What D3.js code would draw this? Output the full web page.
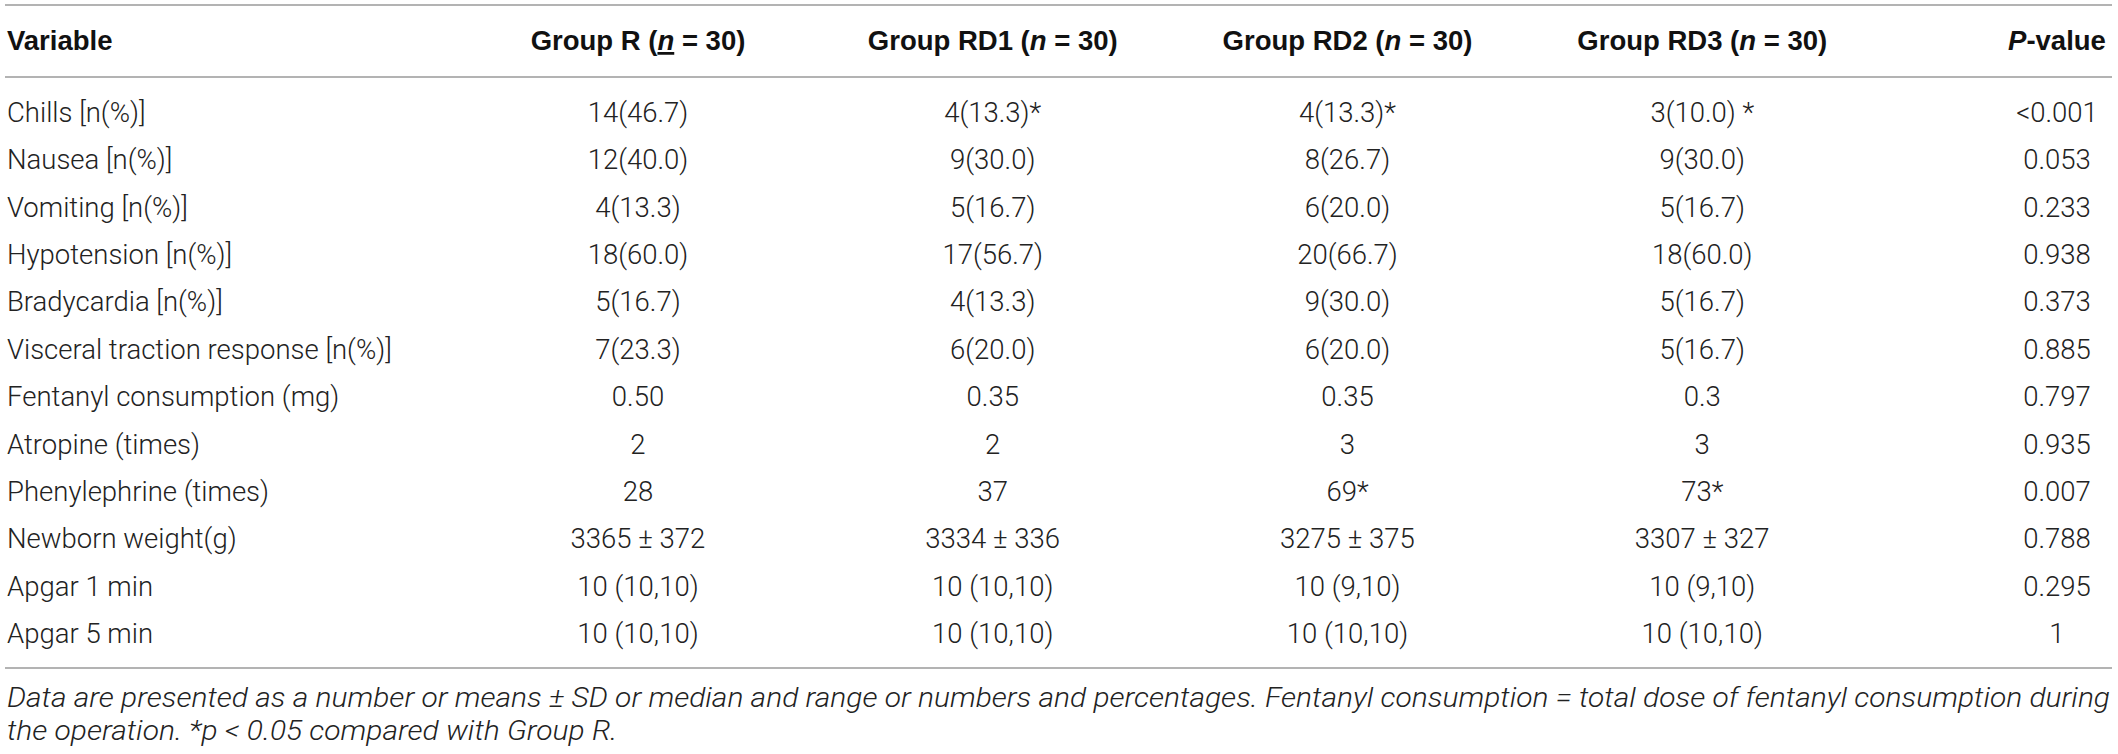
<!DOCTYPE html>
<html>
<head>
<meta charset="utf-8">
<script src="https://cdn.jsdelivr.net/npm/d3@7"></script>
<style>
  html, body { margin: 0; padding: 0; background: #fff; }
  svg { display: block; }
  .body { font-family: "Roboto", "Liberation Sans", sans-serif; font-weight: 300; fill: #222; }
  .head { font-family: "Liberation Sans", Arial, sans-serif; font-weight: bold; fill: #111; }
  .note { font-family: "Roboto", "Liberation Sans", sans-serif; font-weight: 300; font-style: italic; fill: #222; }
</style>
</head>
<body>
<div id="table"></div>
<script>
var variables = ["Chills [n(%)]", "Nausea [n(%)]", "Vomiting [n(%)]", "Hypotension [n(%)]",
  "Bradycardia [n(%)]", "Visceral traction response [n(%)]", "Fentanyl consumption (mg)",
  "Atropine (times)", "Phenylephrine (times)", "Newborn weight(g)", "Apgar 1 min", "Apgar 5 min"];

var groupR   = ["14(46.7)", "12(40.0)", "4(13.3)", "18(60.0)", "5(16.7)", "7(23.3)", "0.50", "2", "28", "3365 \u00b1 372", "10 (10,10)", "10 (10,10)"];
var groupRD1 = ["4(13.3)*", "9(30.0)", "5(16.7)", "17(56.7)", "4(13.3)", "6(20.0)", "0.35", "2", "37", "3334 \u00b1 336", "10 (10,10)", "10 (10,10)"];
var groupRD2 = ["4(13.3)*", "8(26.7)", "6(20.0)", "20(66.7)", "9(30.0)", "6(20.0)", "0.35", "3", "69*", "3275 \u00b1 375", "10 (9,10)", "10 (10,10)"];
var groupRD3 = ["3(10.0) *", "9(30.0)", "5(16.7)", "18(60.0)", "5(16.7)", "5(16.7)", "0.3", "3", "73*", "3307 \u00b1 327", "10 (9,10)", "10 (10,10)"];
var pValues  = ["<0.001", "0.053", "0.233", "0.938", "0.373", "0.885", "0.797", "0.935", "0.007", "0.788", "0.295", "1"];

var columns = ["Group R", "Group RD1", "Group RD2", "Group RD3", "P-value"];
var columnValues = [groupR, groupRD1, groupRD2, groupRD3, pValues];

var noteLines = [
  "Data are presented as a number or means \u00b1 SD or median and range or numbers and percentages. Fentanyl consumption = total dose of fentanyl consumption during",
  "the operation. *p < 0.05 compared with Group R."
];

var width = 2118, height = 754;

var svg = d3.select("#table").append("svg")
  .attr("width", width)
  .attr("height", height);

var x = d3.scalePoint().domain(columns).range([638, 2057]);
var y = d3.scalePoint().domain(variables).range([122, 643]);

// rules
[5, 77, 668].forEach(function(ly){
  svg.append("line")
    .attr("x1", 5).attr("x2", 2112)
    .attr("y1", ly).attr("y2", ly)
    .attr("stroke", "#9a9a9a")
    .attr("stroke-width", 1.6);
});

// header
svg.append("text")
  .attr("class", "head")
  .attr("x", 7).attr("y", 50)
  .style("font-size", "27.5px")
  .text("Variable");

columns.forEach(function(c){
  var t = svg.append("text")
    .attr("class", "head")
    .attr("x", x(c)).attr("y", 50)
    .attr("text-anchor", "middle")
    .style("font-size", "27.5px");
  if (c == "P-value") {
    t.append("tspan").style("font-style", "italic").text("P");
    t.append("tspan").text("-value");
  } else {
    t.append("tspan").text(c + " (");
    var n = t.append("tspan").style("font-style", "italic").text("n");
    if (c == "Group R") n.style("text-decoration", "underline");
    t.append("tspan").text(" = 30)");
  }
});

// variable names
svg.selectAll("text.var")
  .data(variables)
  .enter().append("text")
    .attr("class", "body var")
    .attr("x", 7)
    .attr("y", function(d){ return y(d); })
    .style("font-size", "27.5px")
    .text(function(d){ return d; });

// cells
columns.forEach(function(c, ci){
  svg.selectAll("text.col" + ci)
    .data(columnValues[ci])
    .enter().append("text")
      .attr("class", "body col" + ci)
      .attr("x", x(c))
      .attr("y", function(d, i){ return y(variables[i]); })
      .attr("text-anchor", "middle")
      .style("font-size", "27.5px")
      .text(function(d){ return d; });
});

// footnote: first line stretched to the table width, second line by the same factor
var note1 = svg.append("text")
  .attr("class", "note")
  .attr("x", 7).attr("y", 707)
  .style("font-size", "28px")
  .text(noteLines[0]);
var note2 = svg.append("text")
  .attr("class", "note")
  .attr("x", 7).attr("y", 740)
  .style("font-size", "28px")
  .text(noteLines[1]);

var len1 = note1.node().getComputedTextLength();
var len2 = note2.node().getComputedTextLength();
var k = (2110 - 7) / len1;
note1.attr("textLength", 2103).attr("lengthAdjust", "spacingAndGlyphs");
note2.attr("textLength", len2 * k).attr("lengthAdjust", "spacingAndGlyphs");
</script>
</body>
</html>
